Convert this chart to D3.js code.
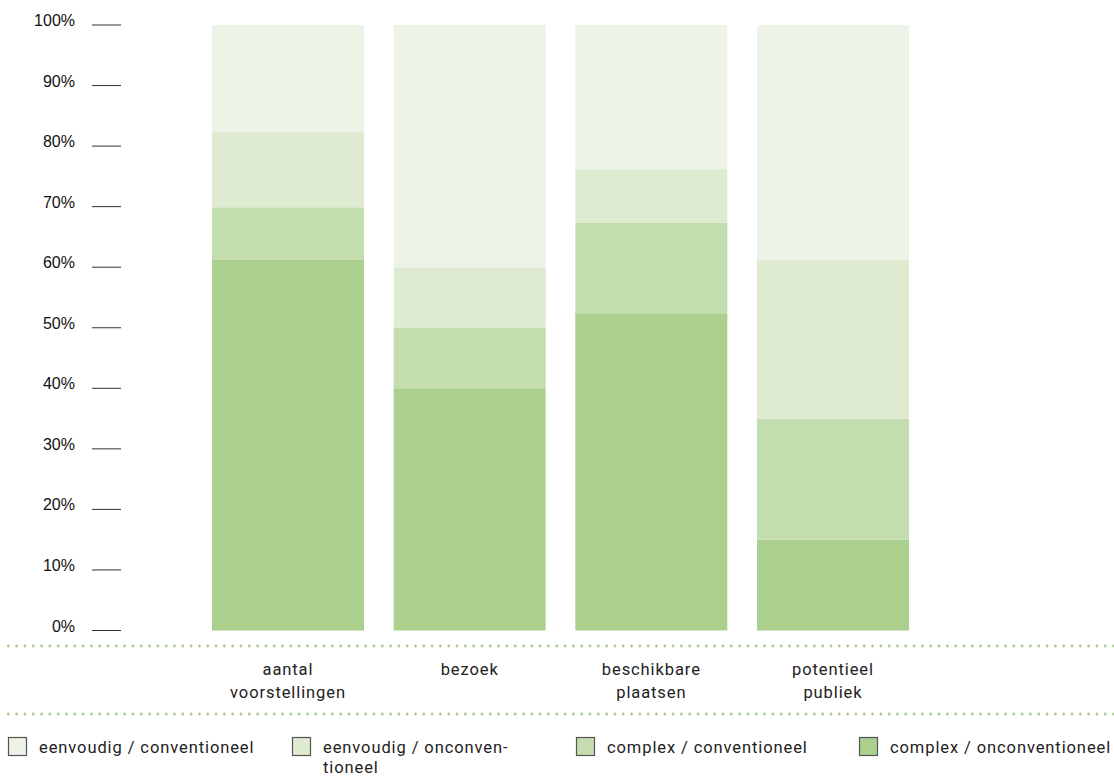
<!DOCTYPE html>
<html><head><meta charset="utf-8">
<script src="https://cdn.jsdelivr.net/npm/d3@7"></script>
<style>body{margin:0;background:#fff}</style>
</head><body>
<svg id="chart" width="1114" height="776"></svg>
<script>
const categories = [["aantal","voorstellingen"],["bezoek"],["beschikbare","plaatsen"],["potentieel","publiek"]];
const seriesNames = ["complex / onconventioneel","complex / conventioneel","eenvoudig / onconventioneel","eenvoudig / conventioneel"];
const complexOncon = [61.2, 40, 52.4, 15];
const complexConv  = [8.7, 10, 14.9, 20];
const eenvOncon    = [12.5, 10, 8.9, 26.2];
const eenvConv     = [17.6, 40, 23.8, 38.8];
const yTicks = [0,10,20,30,40,50,60,70,80,90,100];
const colors = ["#abcf8c","#c4ddae","#deebd1","#edf3e7"];
const legendOrder = [3,2,1,0];
const legendLabels = [["eenvoudig / conventioneel"],["eenvoudig / onconven-","tioneel"],["complex / conventioneel"],["complex / onconventioneel"]];

const svg = d3.select("#chart");
const keys = categories.map(c => c.join(" "));
const x = d3.scaleBand().domain(keys).range([212, 909]).paddingInner(0.1633).paddingOuter(0);
const y = d3.scaleLinear().domain([0,100]).range([630.5, 25]);

const rows = keys.map((k,i) => ({key:k, s0:complexOncon[i], s1:complexConv[i], s2:eenvOncon[i], s3:eenvConv[i]}));
const stack = d3.stack().keys(["s0","s1","s2","s3"])(rows);

svg.append("g").selectAll("g").data(stack).join("g")
  .attr("fill", (d,i) => colors[i])
  .selectAll("rect").data(d => d).join("rect")
  .attr("x", d => x(d.data.key))
  .attr("width", x.bandwidth())
  .attr("y", d => y(d[1]))
  .attr("height", d => y(d[0]) - y(d[1]));

// y axis ticks
const yg = svg.append("g");
yg.selectAll("line").data(yTicks).join("line")
  .attr("x1", 92).attr("x2", 121)
  .attr("y1", d => y(d)).attr("y2", d => y(d))
  .attr("stroke", "#333").attr("stroke-width", 1);
yg.selectAll("text").data(yTicks).join("text")
  .attr("x", 75).attr("y", d => y(d) + 1)
  .attr("text-anchor", "end")
  .attr("font-family", "Liberation Sans, Arial, sans-serif")
  .attr("font-size", 16).attr("fill", "#111")
  .text(d => d + "%");

// dotted separators
[646, 714].forEach(yy => {
  svg.append("line").attr("x1", 8.3).attr("x2", 1114).attr("y1", yy).attr("y2", yy)
    .attr("stroke", "#a6cc86").attr("stroke-width", 2.8)
    .attr("stroke-linecap", "round").attr("stroke-dasharray", "0.01 8.3");
});

// category labels
const cg = svg.append("g");
categories.forEach((lines, i) => {
  const cx = x(keys[i]) + x.bandwidth()/2;
  const t = cg.append("text").attr("text-anchor", "middle")
    .attr("font-family", "Roboto, sans-serif").attr("font-size", 16.5)
    .attr("letter-spacing", "0.9px").attr("fill", "#222");
  lines.forEach((l, j) => t.append("tspan").attr("x", cx).attr("y", 675 + j*23).text(l));
});

// legend
const legX = [8, 292, 576, 859];
const lg = svg.append("g");
legendOrder.forEach((si, i) => {
  lg.append("rect").attr("x", legX[i] + 0.5).attr("y", 737.5).attr("width", 18).attr("height", 18)
    .attr("fill", colors[si]).attr("stroke", "#555").attr("stroke-width", 1.2);
  const t = lg.append("text").attr("font-family", "Roboto, sans-serif").attr("font-size", 16.5)
    .attr("letter-spacing", "0.9px").attr("fill", "#222");
  legendLabels[i].forEach((l, j) => t.append("tspan").attr("x", legX[i] + 31).attr("y", 753 + j*20).text(l));
});
</script>
</body></html>
